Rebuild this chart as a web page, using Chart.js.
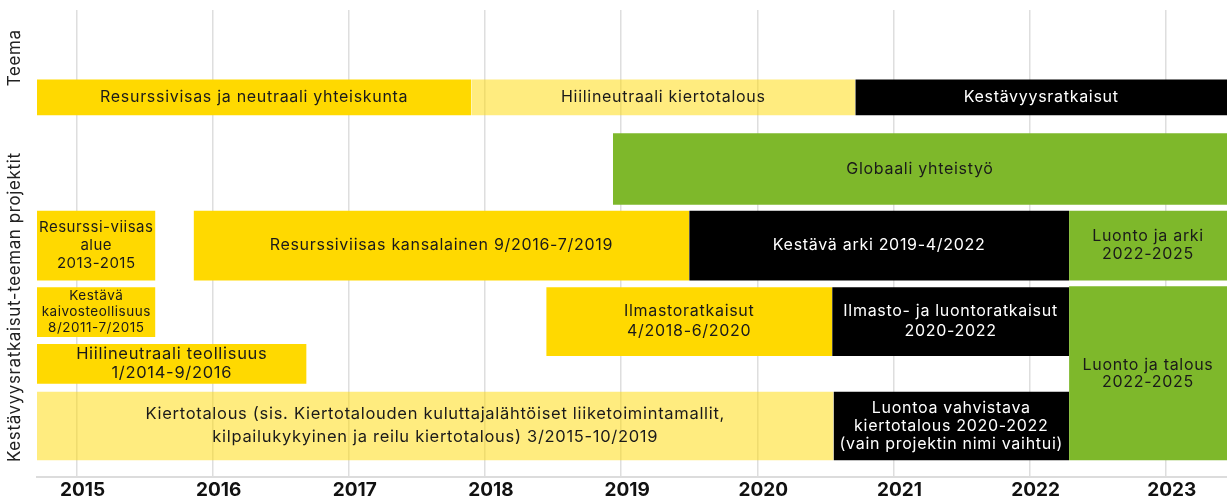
<!DOCTYPE html>
<html>
<head>
  <meta charset="utf-8">
  <title>Kestävyysratkaisut-teeman projektit</title>
  <script src="https://cdn.jsdelivr.net/npm/chart.js"></script>
  <style>
    html, body { margin: 0; padding: 0; background: #ffffff; }
    .chart-container { position: relative; width: 1227px; height: 504px; }
  </style>
</head>
<body>
  <div class="chart-container">
    <canvas id="gantt"></canvas>
  </div>

  <script>
    // Vuodet x-akselilla
    var years = [2015, 2016, 2017, 2018, 2019, 2020, 2021, 2022, 2023];
    var xMin = 2014.71;
    var xMax = 2023.45;

    // Palkkien tekstit (rivit)
    var names = [
      ["Resurssivisas ja neutraali yhteiskunta"],
      ["Hiilineutraali kiertotalous"],
      ["Kestävyysratkaisut"],
      ["Globaali yhteistyö"],
      ["Resurssi-viisas", "alue", "2013-2015"],
      ["Resurssiviisas kansalainen 9/2016-7/2019"],
      ["Kestävä arki 2019-4/2022"],
      ["Luonto ja arki", "2022-2025"],
      ["Kestävä", "kaivosteollisuus", "8/2011-7/2015"],
      ["Ilmastoratkaisut", "4/2018-6/2020"],
      ["Ilmasto- ja luontoratkaisut", "2020-2022"],
      ["Hiilineutraali teollisuus", "1/2014-9/2016"],
      ["Luonto ja talous", "2022-2025"],
      ["Kiertotalous (sis. Kiertotalouden kuluttajalähtöiset liiketoimintamallit,", "kilpailukykyinen ja reilu kiertotalous) 3/2015-10/2019"],
      ["Luontoa vahvistava", "kiertotalous 2020-2022", "(vain projektin nimi vaihtui)"]
    ];
    // Alku- ja loppuvuodet (kuvasta luettuna)
    var starts = [xMin, 2017.90, 2020.72, 2018.94, xMin, 2015.86, 2019.50, 2022.29, xMin, 2018.45, 2020.55, xMin, 2022.29, xMin, 2020.56];
    var ends   = [2017.90, 2020.72, xMax, xMax, 2015.58, 2019.50, 2022.29, xMax, 2015.58, 2020.55, 2022.29, 2016.69, xMax, 2020.56, 2022.29];
    // Rivin ylä- ja alareuna (kaistayksiköt, 0 = ylhäällä)
    var tops    = [7.0, 7.0, 7.0, 12.4, 20.2, 20.2, 20.2, 20.2, 27.9, 27.9, 27.9, 33.6, 27.8, 38.4, 38.4];
    var bottoms = [10.6, 10.6, 10.6, 19.6, 27.2, 27.2, 27.2, 27.2, 32.9, 34.8, 34.8, 37.6, 45.3, 45.3, 45.3];
    // Tyyppi: teema / hanke / päättynyt / uusi
    var kinds = ["gold", "light", "black", "green", "gold", "gold", "black", "green", "gold", "gold", "black", "gold", "green", "light", "black"];

    // Ryhmien otsikot
    var groupTitles = ["Teema", "Kestävyysratkaisut-teeman projektit"];
    var groupCenters = [4.8, 29.9];

    // Tyylit
    var fillColors = { gold: "#ffd900", light: "rgba(255, 217, 0, 0.5)", black: "#000000", green: "#7eb82b" };
    var textColors = { gold: "#1a1a1a", light: "#1a1a1a", black: "#ffffff", green: "#1a1a1a" };
    var labelSizes = [16, 16, 16, 16, 15, 16, 16, 16, 13.5, 16, 16, 16.5, 16, 16.5, 16];
    var spacings   = [0.7, 0.7, 0.7, 0.7, 0.5, 0.7, 0.7, 0.7, 0.5, 0.7, 0.7, 0.7, 0.7, 0.7, 0.7];
    var lineGaps   = [18, 18, 18, 18, 18, 18, 18, 18, 16, 20, 20, 19, 17, 23, 18];
    var fontFamily = "Inter, 'Noto Sans', sans-serif";

    // Jokainen palkki omana datasarjana: yläreuna viivana, täyttö alareunaan
    var datasets = [];
    for (var i = 0; i < names.length; i++) {
      datasets.push({
        label: names[i].join(" "),
        data: [{ x: starts[i], y: tops[i] }, { x: ends[i], y: tops[i] }],
        showLine: true,
        fill: { value: bottoms[i] },
        backgroundColor: fillColors[kinds[i]],
        borderWidth: 0,
        pointRadius: 0,
        pointHoverRadius: 0
      });
    }

    // Tekstit palkkien keskelle
    var barLabels = {
      id: "barLabels",
      afterDatasetsDraw: function(chart) {
        var ctx = chart.ctx;
        var x = chart.scales.x;
        var y = chart.scales.y;
        ctx.save();
        ctx.textAlign = "center";
        ctx.textBaseline = "middle";
        for (var i = 0; i < names.length; i++) {
          var cx = (x.getPixelForValue(starts[i]) + x.getPixelForValue(ends[i])) / 2;
          var cy = (y.getPixelForValue(tops[i]) + y.getPixelForValue(bottoms[i])) / 2;
          var lh = lineGaps[i];
          ctx.font = labelSizes[i] + "px " + fontFamily;
          ctx.letterSpacing = spacings[i] + "px";
          ctx.fillStyle = textColors[kinds[i]];
          var lines = names[i];
          var y0 = cy - (lines.length - 1) * lh / 2;
          for (var j = 0; j < lines.length; j++) {
            ctx.fillText(lines[j], cx, y0 + j * lh);
          }
        }
        // Pystysuorat ryhmäotsikot
        ctx.font = "17px " + fontFamily;
        ctx.letterSpacing = "0.6px";
        ctx.fillStyle = "#222222";
        for (var k = 0; k < groupTitles.length; k++) {
          ctx.save();
          ctx.translate(chart.chartArea.left - 22, y.getPixelForValue(groupCenters[k]));
          ctx.rotate(-Math.PI / 2);
          ctx.fillText(groupTitles[k], 0, 0);
          ctx.restore();
        }
        ctx.restore();
      }
    };

    new Chart(document.getElementById("gantt"), {
      type: "scatter",
      data: { datasets: datasets },
      options: {
        responsive: true,
        maintainAspectRatio: false,
        animation: false,
        events: [],
        layout: { padding: { left: 37, top: 10, right: 0, bottom: 0 } },
        plugins: {
          legend: { display: false },
          tooltip: { enabled: false }
        },
        scales: {
          x: {
            type: "linear",
            min: xMin,
            max: xMax,
            afterBuildTicks: function(scale) {
              scale.ticks = years.map(function(v) { return { value: v }; });
            },
            ticks: {
              callback: function(v) { return String(v); },
              color: "#111111",
              font: { family: fontFamily, size: 19, weight: "bold" },
              padding: 2,
              labelOffset: 6,
              maxRotation: 0
            },
            grid: { color: "#dedede", lineWidth: 1.5, drawTicks: false },
            border: { color: "#dcdcdc", width: 2 }
          },
          y: {
            type: "linear",
            display: false,
            reverse: true,
            min: 0,
            max: 47
          }
        }
      },
      plugins: [barLabels]
    });
  </script>
</body>
</html>
